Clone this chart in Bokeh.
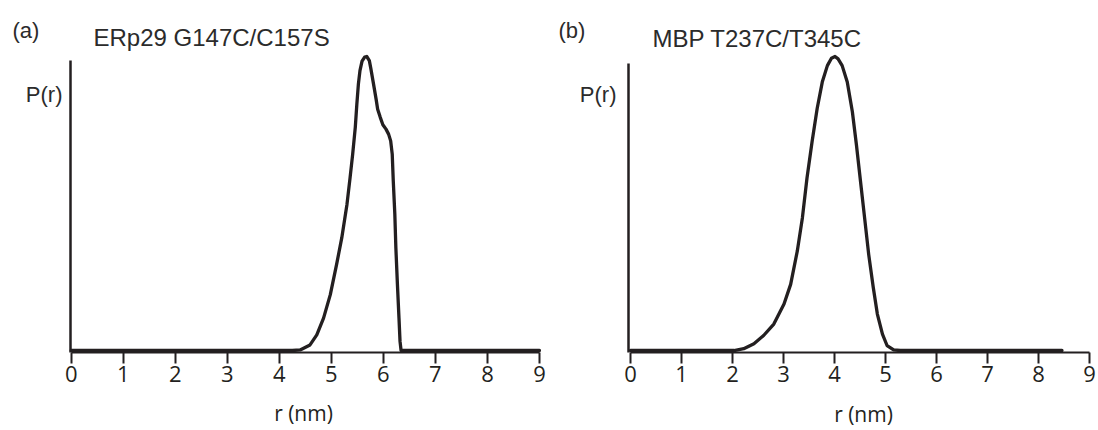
from bokeh.plotting import figure
from bokeh.models import Range1d, LinearAxis, FixedTicker, Label
from bokeh.layouts import row
from bokeh.embed import file_html
from bokeh.resources import INLINE

# ---- data ----
r_ticks = [0, 1, 2, 3, 4, 5, 6, 7, 8, 9]

erp29_r = [0.0, 4.25, 4.40, 4.59, 4.72, 4.85, 4.98, 5.10, 5.20, 5.30, 5.36, 5.41,
           5.46, 5.49, 5.52, 5.55, 5.59, 5.64, 5.68, 5.73, 5.76, 5.81, 5.86, 5.89,
           5.94, 5.99, 6.05, 6.10, 6.14, 6.17, 6.19, 6.22, 6.24, 6.27, 6.30, 6.32,
           6.34, 9.0]
erp29_p = [0.0, 0.0, 0.002, 0.019, 0.053, 0.110, 0.190, 0.292, 0.383, 0.497, 0.588, 0.668,
           0.759, 0.838, 0.907, 0.952, 0.984, 0.998, 1.0, 0.986, 0.958, 0.907, 0.855, 0.821,
           0.793, 0.768, 0.753, 0.736, 0.713, 0.668, 0.577, 0.463, 0.349, 0.224, 0.110, 0.031,
           0.0, 0.0]

mbp_r = [0.0, 2.03, 2.22, 2.42, 2.61, 2.81, 3.01, 3.14, 3.27, 3.37, 3.46, 3.56,
         3.66, 3.76, 3.86, 3.94, 4.01, 4.07, 4.15, 4.25, 4.35, 4.43, 4.51, 4.59,
         4.67, 4.76, 4.84, 4.94, 5.03, 5.16, 5.29, 8.46]
mbp_p = [0.0, 0.0, 0.006, 0.023, 0.051, 0.090, 0.158, 0.225, 0.338, 0.451, 0.586, 0.710,
         0.823, 0.913, 0.969, 0.994, 1.0, 0.992, 0.969, 0.913, 0.812, 0.699, 0.575, 0.451,
         0.327, 0.214, 0.124, 0.056, 0.017, 0.002, 0.0, 0.0]

INK = "#231f20"
TXT = "#2b2b2b"
H = 430
Y0, Y1 = -0.2721, 1.1905   # whole-canvas y range (0 -> 350px, 1 -> 56px)
XAXIS_AT = -0.0051


def panel(width, x0, x1, yaxis_at, ytop, rs, ps, letter, title, pos):
    p = figure(width=width, height=H, output_backend="svg", toolbar_location=None,
               x_range=Range1d(x0, x1), y_range=Range1d(Y0, Y1),
               x_axis_type=None, y_axis_type=None,
               min_border=0, min_border_left=0, min_border_right=0,
               min_border_top=0, min_border_bottom=0)
    p.outline_line_color = None
    p.xgrid.visible = False
    p.ygrid.visible = False
    p.background_fill_color = "white"
    p.border_fill_color = "white"

    xa = LinearAxis(ticker=FixedTicker(ticks=r_ticks), bounds=(0, 9), fixed_location=XAXIS_AT)
    xa.axis_line_color = INK
    xa.axis_line_width = 2
    xa.major_tick_line_color = INK
    xa.major_tick_line_width = 2
    xa.major_tick_out = 11
    xa.major_tick_in = 0
    xa.minor_tick_line_color = None
    xa.major_label_standoff = 3
    xa.major_label_text_font = "Open Sans"
    xa.major_label_text_font_size = "22px"
    xa.major_label_text_color = INK
    p.add_layout(xa, "below")

    ya = LinearAxis(ticker=FixedTicker(ticks=[]), bounds=(XAXIS_AT, ytop), fixed_location=yaxis_at)
    ya.axis_line_color = INK
    ya.axis_line_width = 2.5
    ya.major_tick_line_color = None
    ya.minor_tick_line_color = None
    ya.major_label_text_font_size = "0px"
    p.add_layout(ya, "left")

    p.line(rs, ps, line_color=INK, line_width=3.3, line_join="round", line_cap="round")

    (lx, ly), (tx, ty), (px_, py_), (rx, ry) = pos
    common = dict(x_units="screen", y_units="screen", text_baseline="middle")
    p.add_layout(Label(x=lx, y=ly, text=letter, text_font="Liberation Sans",
                       text_font_size="22px", text_color=TXT, **common))
    p.add_layout(Label(x=tx, y=ty, text=title, text_font="Liberation Sans",
                       text_font_size="24px", text_color=TXT, **common))
    p.add_layout(Label(x=px_, y=py_, text="P(r)", text_font="Liberation Sans",
                       text_font_size="22px", text_color=TXT, text_align="right", **common))
    p.add_layout(Label(x=rx, y=ry, text="r (nm)", text_font="Open Sans",
                       text_font_size="21px", text_color=INK, text_align="center", **common))
    return p


p1 = panel(550, -1.359, 9.212, -0.0135, 0.986, erp29_r, erp29_p,
           "(a)", "ERp29 G147C/C157S",
           ((12, 400), (93, 393), (62, 336), (303, 18)))
p2 = panel(548, -1.5686, 9.176, -0.039, 0.976, mbp_r, mbp_p,
           "(b)", "MBP T237C/T345C",
           ((8, 400), (102, 392), (66, 336), (313, 17)))

layout = row(p1, p2)
open("out.html", "w").write(file_html(layout, INLINE))
